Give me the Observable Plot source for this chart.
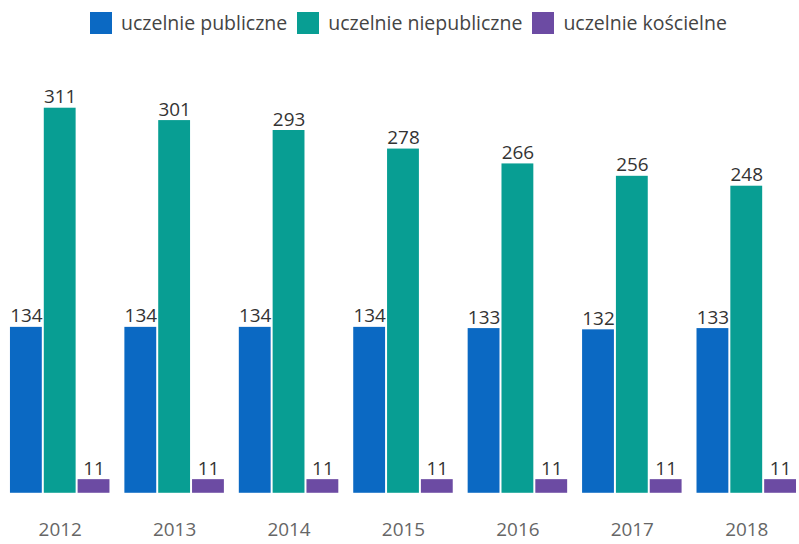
<!DOCTYPE html>
<html><head><meta charset="utf-8">
<script src="https://cdn.jsdelivr.net/npm/d3@7"></script>
<script src="https://cdn.jsdelivr.net/npm/@observablehq/plot@0.6"></script>
<style>
body{margin:0;background:#fff;overflow:hidden;width:799px;height:544px;font-family:"Open Sans",sans-serif;}
#legend{position:absolute;left:90px;top:12px;display:flex;align-items:center;font-size:19.5px;line-height:22px;color:#444;}
#legend .it{display:flex;align-items:center;margin-right:10px;}
#legend .sw{width:22px;height:22px;margin-right:9px;}
#chart{position:absolute;left:0;top:50px;}
</style></head>
<body>
<div id="legend"></div>
<div id="chart"></div>
<script>
const years = ["2012","2013","2014","2015","2016","2017","2018"];
const series = ["uczelnie publiczne","uczelnie niepubliczne","uczelnie kościelne"];
const colors = ["#0b69c3","#089e93","#6c4ba3"];
const publiczne = [134,134,134,134,133,132,133];
const niepubliczne = [311,301,293,278,266,256,248];
const koscielne = [11,11,11,11,11,11,11];

const vals = [publiczne, niepubliczne, koscielne];
const data = [];
years.forEach((y,i)=>series.forEach((s,j)=>data.push({year:y, series:s, value:vals[j][i]})));

const leg = document.getElementById("legend");
series.forEach((s,j)=>{
  const it=document.createElement("div");it.className="it";
  const sw=document.createElement("div");sw.className="sw";sw.style.background=colors[j];
  const t=document.createElement("span");t.textContent=s;
  it.appendChild(sw);it.appendChild(t);leg.appendChild(it);
});

const chart = Plot.plot({
  width: 803, height: 494,
  marginLeft: 6, marginRight: 0, marginTop: 58, marginBottom: 49,
  style:{fontFamily:"'Open Sans', sans-serif", background:"#fff"},
  fx:{domain:years, paddingInner:0.117, paddingOuter:0, label:null, tickSize:0, tickPadding:29, axis:"bottom"},
  x:{domain:series, paddingInner:0.07, paddingOuter:0, axis:null},
  y:{domain:[0,311], axis:null},
  color:{domain:series, range:colors},
  marks:[
    Plot.barY(data,{fx:"year", x:"series", y:"value", fill:"series"}),
    Plot.text(data,{fx:"year", x:"series", y:"value", text:d=>String(d.value), dy:-11, fontSize:19, fill:"#333"})
  ]
});
chart.querySelectorAll("g[aria-label='fx-axis tick label']").forEach(g=>{g.setAttribute("font-size","19");g.setAttribute("fill","#666");});
document.getElementById("chart").appendChild(chart);
</script>
</body></html>
